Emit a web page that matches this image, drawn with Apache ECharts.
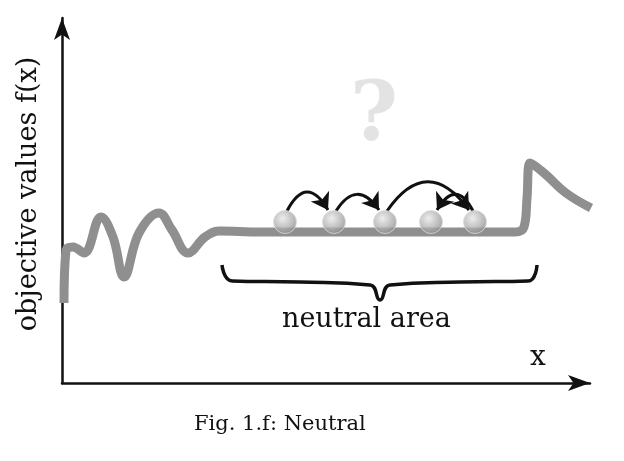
<!DOCTYPE html>
<html><head><meta charset="utf-8">
<script src="https://cdn.jsdelivr.net/npm/echarts@6/dist/echarts.min.js"></script>
<style>html,body{margin:0;background:#fff}#c{width:624px;height:461px}</style>
</head><body><div id="c"></div>
<script>
// landscape curve, x / height above the x axis
const curveX = [64, 66, 73, 84, 101, 113, 124, 139, 159, 172, 188, 205, 219, 260, 400, 515, 524, 527, 530, 544, 566, 591];
const curveY = [80, 133, 136, 130, 166, 146, 106, 150, 170, 153, 130, 146, 152, 151, 151, 151, 156, 185, 220, 210, 190, 175];
// individuals on the plateau
const ballX = [285, 334, 385, 431, 475];
const ballY = [161, 161, 161, 161, 161];
// jumps between individuals [from, to, curveness]
const jumps = [[0, 1, 0.9], [1, 2, 0.75], [2, 4, 0.7], [4, 3, -0.9]];
// brace below the neutral area
const braceX = [222, 232, 300, 370, 380, 390, 460, 528, 537];
const braceY = [118, 102, 101, 98, 83, 98, 101, 102, 118];

const serif = '"DejaVu Serif", "Liberation Serif", serif';
const chart = echarts.init(document.getElementById('c'));
const axisLine = { show: true, symbol: ['none', 'arrow'], symbolSize: [12, 22], lineStyle: { color: '#111', width: 2.5 } };
chart.setOption({
  animation: false,
  grid: { left: 62, right: 34, top: 18, bottom: 78 },
  xAxis: { type: 'value', min: 62, max: 590, axisLine, axisTick: { show: false }, axisLabel: { show: false }, splitLine: { show: false } },
  yAxis: { type: 'value', min: 0, max: 365, axisLine, axisTick: { show: false }, axisLabel: { show: false }, splitLine: { show: false } },
  graphic: [
    { type: 'text', left: 350, top: 78, style: { text: '?', font: 'bold 82px ' + serif, fill: '#e3e3e3' } },
    { type: 'text', left: 282, top: 306, style: { text: 'neutral area', font: '27px ' + serif, fill: '#111' } },
    { type: 'text', left: 530, top: 344, style: { text: 'x', font: '28px ' + serif, fill: '#111' } },
    { type: 'text', left: 194, top: 414, style: { text: 'Fig. 1.f: Neutral', font: '21px ' + serif, fill: '#111' } },
    { type: 'text', x: 42, y: 194, rotation: Math.PI / 2, style: { text: 'objective values f(x)', font: '27px ' + serif, fill: '#111', align: 'center', verticalAlign: 'bottom' } }
  ],
  series: [
    { type: 'line', smooth: 0.4, symbol: 'none', data: curveX.map((x, i) => [x, curveY[i]]), lineStyle: { color: '#8f8f8f', width: 9 } },
    { type: 'line', smooth: 0.5, symbol: 'none', data: braceX.map((x, i) => [x, braceY[i]]), lineStyle: { color: '#111', width: 3.5 } },
    { type: 'lines', coordinateSystem: 'cartesian2d', symbol: ['none', 'arrow'], symbolSize: 16,
      lineStyle: { color: '#111', width: 3, opacity: 1 },
      data: jumps.map(([a, b, c]) => ({ coords: [[ballX[a] + (b > a ? 2 : -2), ballY[a] + 11], [ballX[b] + (b > a ? -6 : 6), ballY[b] + 12]], lineStyle: { curveness: c } })) },
    { type: 'scatter', symbolSize: 23, z: 5, data: ballX.map((x, i) => [x, ballY[i]]),
      itemStyle: { borderColor: '#ddd', borderWidth: 1,
        color: new echarts.graphic.RadialGradient(0.4, 0.35, 0.7, [{ offset: 0, color: '#e8e8e8' }, { offset: 1, color: '#8a8a8a' }]) } }
  ]
});
</script></body></html>
